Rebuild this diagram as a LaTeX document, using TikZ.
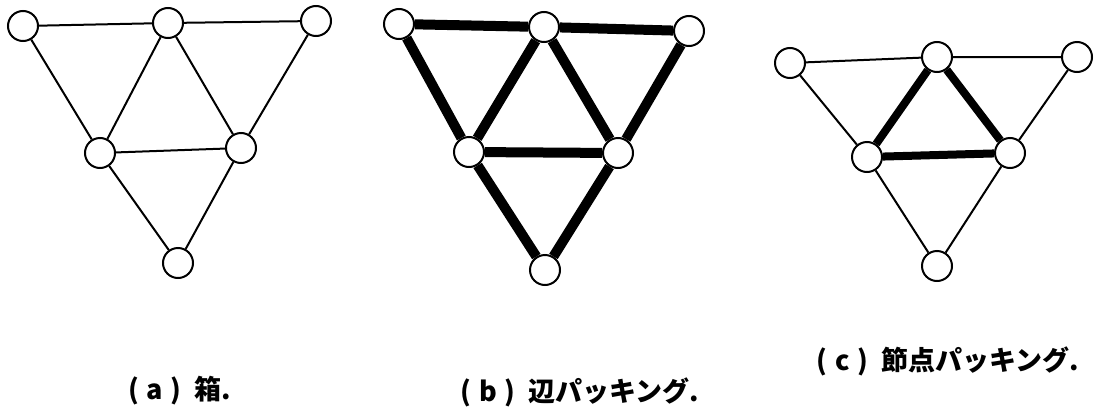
\documentclass[tikz,border=0pt]{standalone}
\usepackage{fontspec}
\newfontfamily\jpfont{Noto Sans CJK JP}
\begin{document}
\begin{tikzpicture}[x=0.5pt, y=-0.5pt,
  vertex/.style={draw, circle, fill=white, line width=1pt, minimum size=15pt, inner sep=0pt},
  edge/.style={line width=1pt},
  packed/.style={line width=5pt},
  caption/.style={font=\jpfont\bfseries\fontsize{13.5}{15}\selectfont, inner sep=0pt}]
\useasboundingbox (0,0) rectangle (1099,413);
% (a) box
\node[vertex] (a1) at (23,26) {};
\node[vertex] (a2) at (168,23) {};
\node[vertex] (a3) at (316,21) {};
\node[vertex] (a4) at (100,153) {};
\node[vertex] (a5) at (241,148) {};
\node[vertex] (a6) at (178,263) {};
\draw[edge] (a1) -- (a2) (a2) -- (a3) (a1) -- (a4) (a2) -- (a4) (a2) -- (a5);
\draw[edge] (a3) -- (a5) (a4) -- (a5) (a4) -- (a6) (a5) -- (a6);
% (b) edge packing
\node[vertex] (b1) at (399,24) {};
\node[vertex] (b2) at (544,27) {};
\node[vertex] (b3) at (689,31) {};
\node[vertex] (b4) at (469,152) {};
\node[vertex] (b5) at (618,153) {};
\node[vertex] (b6) at (545,270) {};
\draw[packed] (b1) -- (b2) (b2) -- (b3) (b1) -- (b4) (b2) -- (b4) (b2) -- (b5);
\draw[packed] (b3) -- (b5) (b4) -- (b5) (b4) -- (b6) (b5) -- (b6);
% (c) node packing
\node[vertex] (c1) at (790,63) {};
\node[vertex] (c2) at (937,57) {};
\node[vertex] (c3) at (1077,57) {};
\node[vertex] (c4) at (867,157) {};
\node[vertex] (c5) at (1010,153) {};
\node[vertex] (c6) at (937,266) {};
\draw[edge] (c1) -- (c2) (c2) -- (c3) (c1) -- (c4) (c3) -- (c5) (c4) -- (c6) (c5) -- (c6);
\draw[packed, line width=4pt] (c2) -- (c4) (c2) -- (c5) (c4) -- (c5);
% captions
\node[caption] (capa) at (180,391) {(\;a\;)\enspace 箱.};
\node[caption] (capb) at (580,392) {(\;b\;)\enspace 辺パッキング.};
\node[caption] (capc) at (948,361) {(\;c\;)\enspace 節点パッキング.};
\end{tikzpicture}
\end{document}
